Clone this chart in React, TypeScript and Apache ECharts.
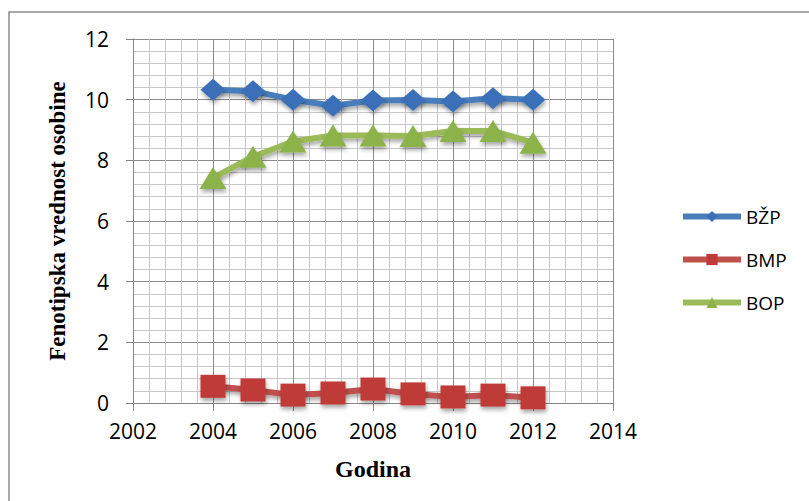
import React, { useEffect, useRef } from "react";
import * as echarts from "echarts";

const years = [2004, 2005, 2006, 2007, 2008, 2009, 2010, 2011, 2012];
const bzp = [10.33, 10.28, 10.0, 9.8, 9.97, 9.99, 9.94, 10.05, 10.0];
const bmp = [0.55, 0.43, 0.26, 0.33, 0.46, 0.3, 0.2, 0.26, 0.17];
const bop = [7.42, 8.12, 8.62, 8.82, 8.82, 8.8, 8.97, 8.97, 8.58];
const seriesNames = ["BŽP", "BMP", "BOP"];
const xTitle = "Godina";
const yTitle = "Fenotipska vrednost osobine";

const labelFont = "'Open Sans', 'Liberation Sans', sans-serif";
const titleFont = "'Liberation Serif', 'DejaVu Serif', serif";

export default function App() {
  const ref = useRef<HTMLDivElement>(null);
  useEffect(() => {
    if (!ref.current) return;
    const chart = echarts.init(ref.current, null, { renderer: "svg" });
    const shadow = {
      shadowBlur: 4,
      shadowColor: "rgba(0,0,0,0.35)",
      shadowOffsetX: 1,
      shadowOffsetY: 3,
    };
    const mk = (
      name: string,
      vals: number[],
      lineColor: string,
      markColor: string,
      symbol: string,
      size: number[]
    ) => ({
      name,
      type: "line",
      data: years.map((y, i) => [y, vals[i]]),
      symbol,
      symbolSize: size,
      lineStyle: { color: lineColor, width: 6, ...shadow },
      itemStyle: { color: markColor, borderWidth: 0, ...shadow },
      emphasis: { disabled: true },
    });
    chart.setOption({
      animation: false,
      backgroundColor: "#ffffff",
      graphic: [
        {
          type: "rect",
          shape: { x: 9, y: 12, width: 840, height: 540 },
          style: { fill: "none", stroke: "#8a8a8a", lineWidth: 1.5 },
          silent: true,
        },
      ],
      grid: { left: 133, top: 39, width: 480, height: 364, containLabel: false },
      legend: {
        orient: "vertical",
        left: 675,
        top: 202,
        itemWidth: 58,
        itemHeight: 14,
        itemGap: 24,
        data: seriesNames,
        lineStyle: { width: 6 },
        itemStyle: { shadowBlur: 0, shadowOffsetX: 0, shadowOffsetY: 0 },
        textStyle: { fontFamily: labelFont, fontSize: 19, color: "#000" },
      },
      xAxis: {
        type: "value",
        min: 2002,
        max: 2014,
        interval: 2,
        name: xTitle,
        nameLocation: "middle",
        nameGap: 54,
        nameTextStyle: {
          fontFamily: titleFont,
          fontWeight: "bold",
          fontSize: 24,
          color: "#000",
        },
        axisLine: { show: true, lineStyle: { color: "#868686", width: 1 } },
        axisTick: { show: true, length: 8, lineStyle: { color: "#868686" } },
        axisLabel: {
          fontFamily: labelFont,
          fontSize: 21,
          color: "#000",
          margin: 17,
          formatter: (v: number) => String(v),
        },
        splitLine: { show: true, lineStyle: { color: "#8c8c8c", width: 1 } },
        minorTick: { show: false, splitNumber: 5 },
        minorSplitLine: { show: true, lineStyle: { color: "#c8c8c8", width: 1 } },
      },
      yAxis: {
        type: "value",
        min: 0,
        max: 12,
        interval: 2,
        name: yTitle,
        nameLocation: "middle",
        nameGap: 64,
        nameRotate: 90,
        nameTextStyle: {
          fontFamily: titleFont,
          fontWeight: "bold",
          fontSize: 23,
          color: "#000",
        },
        axisLine: { show: true, lineStyle: { color: "#868686", width: 1 } },
        axisTick: { show: true, length: 7, lineStyle: { color: "#868686" } },
        axisLabel: {
          fontFamily: labelFont,
          fontSize: 21,
          color: "#000",
          margin: 24,
        },
        splitLine: { show: true, lineStyle: { color: "#8c8c8c", width: 1 } },
        minorTick: { show: false, splitNumber: 5 },
        minorSplitLine: { show: true, lineStyle: { color: "#c8c8c8", width: 1 } },
      },
      series: [
        mk(seriesNames[0], bzp, "#4a7ebb", "#3b70b8", "diamond", [25, 22]),
        mk(seriesNames[1], bmp, "#c0504d", "#be3b38", "rect", [25, 23]),
        mk(seriesNames[2], bop, "#9bbb59", "#8cb34a", "triangle", [27, 22]),
      ],
    });
    return () => chart.dispose();
  }, []);
  return (
    <div
      ref={ref}
      style={{ position: "fixed", left: 0, top: 0, width: 809, height: 501 }}
    />
  );
}
